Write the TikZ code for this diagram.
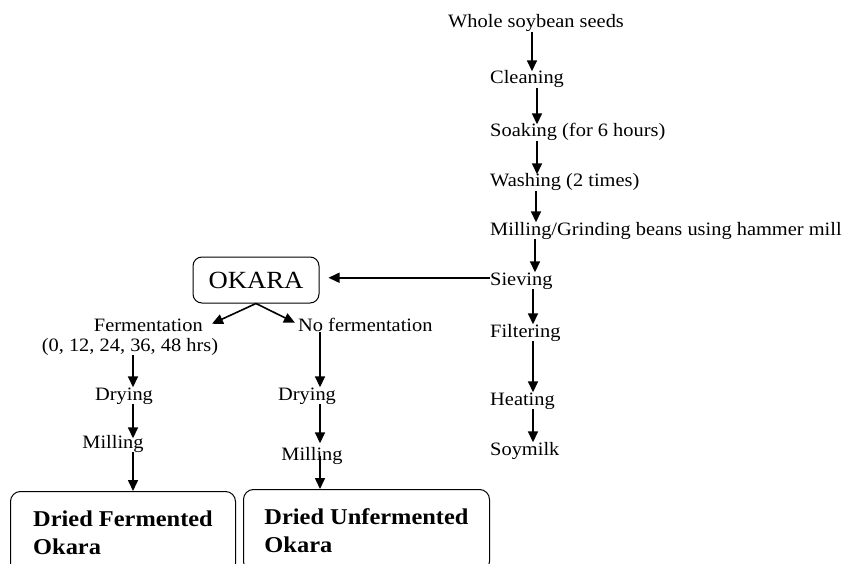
\documentclass[tikz,border=0pt]{standalone}
\usepackage{fontspec}
\setmainfont{Liberation Serif}[FakeStretch=1.08]
\usetikzlibrary{arrows.meta}

\begin{document}
\begin{tikzpicture}[x=1pt,y=-1pt,>={Triangle[length=11pt,width=10pt]},
  flow/.style={->,line width=1.6pt},
  stage/.style={inner sep=0pt,text height=12.5pt,text depth=4pt,font=\fontsize{18.9pt}{22pt}\selectfont},
  prodbox/.style={draw,line width=1pt,rounded corners=10pt,anchor=north west,minimum height=82pt,align=left,font=\fontsize{22.6pt}{28pt}\selectfont\bfseries}]
\useasboundingbox (0,0) rectangle (843,564);

% soymilk line
\node[stage,anchor=base west] (whole) at (448,28) {Whole soybean seeds};
\node[stage,anchor=base west] (clean) at (490,84) {Cleaning};
\node[stage,anchor=base west] (soak) at (490,137) {Soaking (for 6 hours)};
\node[stage,anchor=base west] (wash) at (490,187) {Washing (2 times)};
\node[stage,anchor=base west] (grind) at (490,235) {Milling/Grinding beans using hammer mill};
\node[stage,anchor=base west] (sieve) at (490,285) {Sieving};
\node[stage,anchor=base west] (filter) at (490,337) {Filtering};
\node[stage,anchor=base west] (heat) at (490,405) {Heating};
\node[stage,anchor=base west] (soy) at (490,455) {Soymilk};

% okara line
\node[draw,line width=1pt,rounded corners=9pt,minimum width=126pt,minimum height=46pt,
  font=\fontsize{24.7pt}{28pt}\selectfont] (okara) at (256,280) {OKARA};
\node[stage,anchor=base east] (ferm) at (203,331) {Fermentation};
\node[stage,anchor=base] (hrs) at (130,351) {(0, 12, 24, 36, 48 hrs)};
\node[stage,anchor=base west] (nofer) at (298,331) {No fermentation};
\node[stage,anchor=base] (dry1) at (124,400) {Drying};
\node[stage,anchor=base] (mill1) at (113,448) {Milling};
\node[stage,anchor=base] (dry2) at (307,400) {Drying};
\node[stage,anchor=base] (mill2) at (312,460) {Milling};
\node[prodbox,minimum width=225pt] (box1) at (10,491) {Dried Fermented\\Okara};
\node[prodbox,minimum width=246pt] (box2) at (243,489) {Dried Unfermented\\Okara};

\foreach \a/\b/\x in {whole/clean/532,clean/soak/537,soak/wash/537,wash/grind/536,
  grind/sieve/535,sieve/filter/533,filter/heat/533,heat/soy/533}
  \draw[flow] (\a.south -| \x,0) -- (\b.north -| \x,0);

\draw[flow,shorten >=9pt] ([yshift=3pt]sieve.west) -- ([yshift=3pt]sieve.west -| okara.east);
\draw[flow] (okara.south) -- ([xshift=9pt,yshift=3pt]ferm.east);
\draw[flow] (okara.south) -- ([xshift=-3pt,yshift=4pt]nofer.west);

\draw[flow] (hrs.south -| 133,0) -- (dry1.north -| 133,0);
\draw[flow] (dry1.south -| 133,0) -- ([yshift=-3pt]mill1.north -| 133,0);
\draw[flow] (mill1.south -| 133,0) -- (box1.north -| 133,0);
\draw[flow] ([yshift=3pt]nofer.south -| 320,0) -- (dry2.north -| 320,0);
\draw[flow,shorten >=4pt] (dry2.south -| 320,0) -- (mill2.north -| 320,0);
\draw[flow] (mill2.center -| 320,0) -- (box2.north -| 320,0);

\end{tikzpicture}
\end{document}
